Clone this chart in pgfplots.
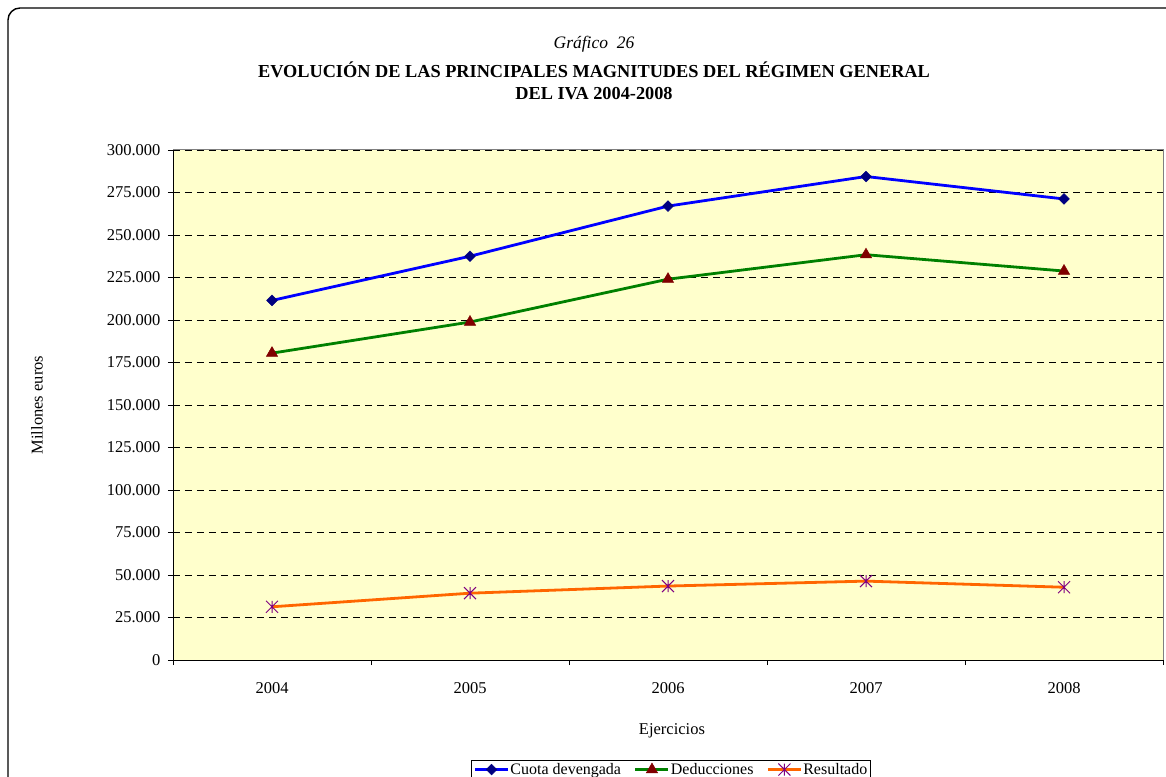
\documentclass[border=0pt]{standalone}
\usepackage{fontspec}
\setmainfont{Liberation Serif}
\usepackage{pgfplots}
\pgfplotsset{compat=1.18}
\definecolor{bgyellow}{HTML}{FFFFCC}
\definecolor{cuota}{HTML}{0000FF}
\definecolor{cuotam}{HTML}{000080}
\definecolor{deduc}{HTML}{008000}
\definecolor{deducm}{HTML}{800000}
\definecolor{resul}{HTML}{FF6600}
\definecolor{resulm}{HTML}{800080}
\pgfdeclareplotmark{xstar}{%
  \pgfpathmoveto{\pgfqpoint{0pt}{\pgfplotmarksize}}%
  \pgfpathlineto{\pgfqpoint{0pt}{-\pgfplotmarksize}}%
  \pgfpathmoveto{\pgfqpoint{-\pgfplotmarksize}{\pgfplotmarksize}}%
  \pgfpathlineto{\pgfqpoint{\pgfplotmarksize}{-\pgfplotmarksize}}%
  \pgfpathmoveto{\pgfqpoint{-\pgfplotmarksize}{-\pgfplotmarksize}}%
  \pgfpathlineto{\pgfqpoint{\pgfplotmarksize}{\pgfplotmarksize}}%
  \pgfusepathqstroke}
\begin{document}
\begin{tikzpicture}[x=1pt,y=1pt]
\useasboundingbox (-173,-116) rectangle (993,660);
\draw[line width=1.4pt, rounded corners=12pt] (-165,-160) -- (-165,652) -- (1020,652);
\node[font=\fontsize{17.5}{20}\selectfont\itshape] at (421,616) {Gráfico\ \ 26};
\node[font=\fontsize{18.3}{21}\selectfont\bfseries] at (421,590) {EVOLUCIÓN DE LAS PRINCIPALES MAGNITUDES DEL RÉGIMEN GENERAL};
\node[font=\fontsize{18.3}{21}\selectfont\bfseries] at (421,566) {DEL IVA 2004-2008};
\begin{axis}[
  at={(0,0)}, anchor=south west,
  scale only axis, width=990pt, height=510pt,
  xmin=-0.5, xmax=4.5, ymin=0, ymax=300000,
  axis background/.style={fill=bgyellow},
  axis x line*=bottom, axis y line*=left,
  axis line style={-, black, line width=0.9pt},
  tick align=outside, major tick length=5pt,
  tick style={black, line width=0.8pt},
  xtick={-0.5,0.5,1.5,2.5,3.5,4.5}, xticklabels={},
  extra x ticks={0,1,2,3,4},
  extra x tick labels={2004,2005,2006,2007,2008},
  extra x tick style={major tick length=0pt, tick label style={yshift=-19pt}},
  ytick={0,25000,50000,75000,100000,125000,150000,175000,200000,225000,250000,275000,300000},
  scaled y ticks=false,
  /pgf/number format/fixed,
  /pgf/number format/precision=0,
  /pgf/number format/1000 sep={.},
  /pgf/number format/assume math mode=true,
  y tick label style={xshift=-4pt},
  ymajorgrids,
  major grid style={black, line width=0.8pt, dash pattern=on 7pt off 5pt},
  tick label style={font=\fontsize{16.5}{19}\selectfont},
  label style={font=\fontsize{16.5}{19}\selectfont},
  xlabel={Ejercicios},
  xlabel style={at={(axis description cs:0.504,-0.139)}, anchor=center},
  ylabel={Millones euros},
  ylabel style={at={(axis description cs:-0.1374,0.5)}, anchor=center},
  legend columns=-1,
  legend style={at={(axis description cs:0.503,-0.196)}, anchor=north,
    draw=black, line width=0.6pt, fill=white,
    font=\fontsize{16}{19}\selectfont,
    inner xsep=2pt, inner ysep=1pt,
    /tikz/every odd column/.append style={column sep=0pt},
    /tikz/every even column/.append style={column sep=12pt},
    nodes={inner xsep=1pt, inner ysep=2pt}},
  legend image code/.code={\draw[mark repeat=2,mark phase=2,#1] plot coordinates {(0pt,0pt) (16.5pt,0pt) (33pt,0pt)};},
  clip=false,
]
\addplot[cuota, line width=2.8pt, mark=square*, mark size=3.8pt, mark options={cuotam, fill=cuotam, line width=0.5pt, rotate=45}]
  coordinates {(0,211500) (1,237500) (2,267000) (3,284400) (4,271200)};
\addlegendentry{Cuota devengada}
\addplot[deduc, line width=2.8pt, mark=triangle*, mark size=6.5pt, mark options={deducm, fill=deducm, line width=0.5pt}]
  coordinates {(0,180500) (1,198800) (2,224000) (3,238400) (4,228800)};
\addlegendentry{Deducciones}
\addplot[resul, line width=2.8pt, mark=xstar, mark size=6pt, mark options={resulm, line width=1pt}]
  coordinates {(0,31300) (1,39300) (2,43500) (3,46400) (4,42800)};
\addlegendentry{Resultado}
\draw[gray, line width=1pt] (rel axis cs:0,1) -- (rel axis cs:1,1) -- (rel axis cs:1,0);
\end{axis}
\end{tikzpicture}
\end{document}
